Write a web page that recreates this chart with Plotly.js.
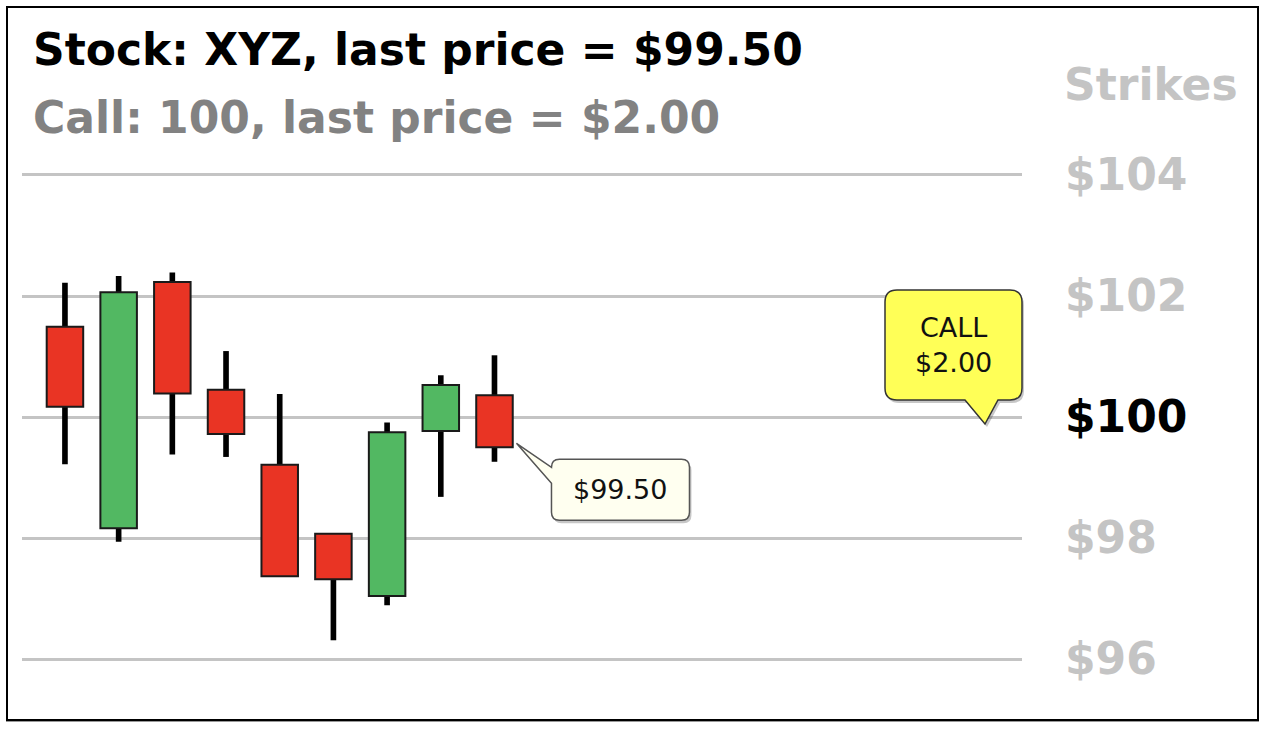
<!DOCTYPE html>
<html>
<head>
<meta charset="utf-8">
<script src="https://cdn.plot.ly/plotly-3.0.1.min.js"></script>
<style>
  html, body { margin: 0; padding: 0; background: #fff; }
  #chart { width: 1270px; height: 730px; }
  #frame { position: absolute; left: 6px; top: 6px; width: 1253px; height: 715px;
           border: 2px solid #000; box-sizing: border-box; pointer-events: none;
           box-shadow: 0 1px 0 #999; }
</style>
</head>
<body>
<div id="chart"></div>
<div id="frame"></div>
<script>
// ---- data ----
var stock = 'XYZ';
var periods = [1, 2, 3, 4, 5, 6, 7, 8, 9];
var open  = [101.49,  98.16, 102.23, 100.45, 99.21, 98.07, 97.04,  99.77, 100.36];
var high  = [102.22, 102.33, 102.39, 101.09, 100.38, 98.07, 99.91, 100.69, 101.02];
var low   = [ 99.22,  97.94,  99.38,  99.34, 97.37, 96.31, 96.89,  98.68,  99.26];
var close = [100.17, 102.06, 100.39,  99.72, 97.37, 97.32, 99.75, 100.53,  99.50];
var strikes = [96, 98, 100, 102, 104];
var strikeLabels = ['$96', '$98', '$100', '$102', '$104'];
var callStrike = 100;
var callPrice = 2.00;

// ---- derived ----
var last = close.length - 1;
var lastPrice = close[last];
var upColor = '#52b862', downColor = '#e93424';
var bodyBase = open.map(function (o, i) { return Math.min(o, close[i]); });
var bodyLen = open.map(function (o, i) { return Math.abs(close[i] - o); });
var bodyColor = open.map(function (o, i) { return close[i] >= o ? upColor : downColor; });
var wickLen = high.map(function (h, i) { return h - low[i]; });
var tickText = strikes.map(function (s, i) {
  return s === callStrike ? '<span style="color:#000000">' + strikeLabels[i] + '</span>' : strikeLabels[i];
});

// bubble path (pixel offsets, y up)
function roundBox(L, R, T, B, r, dx, dy, tailSide, tail) {
  function p(x, y) { return (x + dx) + ',' + (y + dy); }
  var d = 'M' + p(L + r, T) + ' L' + p(R - r, T) + ' Q' + p(R, T) + ' ' + p(R, T - r) +
          ' L' + p(R, B + r) + ' Q' + p(R, B) + ' ' + p(R - r, B);
  if (tailSide === 'bottom') {
    d += ' L' + p(tail[0], B) + ' L' + p(tail[1], tail[2]) + ' L' + p(tail[3], B);
  }
  d += ' L' + p(L + r, B) + ' Q' + p(L, B) + ' ' + p(L, B + r);
  if (tailSide === 'left') {
    d += ' L' + p(L, tail[0]) + ' L' + p(tail[1], tail[2]) + ' L' + p(L, tail[3]);
  }
  d += ' L' + p(L, T - r) + ' Q' + p(L, T) + ' ' + p(L + r, T) + ' Z';
  return d;
}

var priceBox = { L: 57, R: 195, T: -12, B: -73, r: 8, tail: [-36, 22, 4, -20] };
var callBox = { L: -137, R: 0, T: 127, B: 17, r: 12, tail: [-24, -37, -7, -57] };

function bubbleShapes(box, side, xref, xanchor, yanchor, fill, line) {
  var common = { type: 'path', xref: xref, yref: 'y', xsizemode: 'pixel', ysizemode: 'pixel',
                 xanchor: xanchor, yanchor: yanchor, layer: 'above' };
  var shadow = Object.assign({}, common, {
    path: roundBox(box.L, box.R, box.T, box.B, box.r, 2, -3, side, box.tail),
    fillcolor: 'rgba(0,0,0,0.22)', line: { width: 0 }
  });
  var main = Object.assign({}, common, {
    path: roundBox(box.L, box.R, box.T, box.B, box.r, 0, 0, side, box.tail),
    fillcolor: fill, line: { color: line, width: 1.5 }
  });
  return [shadow, main];
}

var shapes = []
  .concat(bubbleShapes(priceBox, 'left', 'x', periods[last], lastPrice, '#fffff0', '#555555'))
  .concat(bubbleShapes(callBox, 'bottom', 'paper', 1, callStrike, '#ffff57', '#333333'));

var traces = [
  { type: 'bar', x: periods, base: low, y: wickLen, width: 0.105,
    marker: { color: '#000000', line: { width: 0 } }, hoverinfo: 'skip' },
  { type: 'bar', x: periods, base: bodyBase, y: bodyLen, width: 0.68,
    marker: { color: bodyColor, line: { color: '#1a1a1a', width: 2 } }, hoverinfo: 'skip' }
];

var textFont = { family: 'DejaVu Sans', size: 27, color: '#111111' };
var boldFont = function (color) { return { family: 'DejaVu Sans', size: 44, weight: 'bold', color: color }; };

var layout = {
  width: 1270, height: 730,
  margin: { l: 22, r: 248, t: 150, b: 40 },
  paper_bgcolor: '#ffffff', plot_bgcolor: '#ffffff',
  showlegend: false, barmode: 'overlay',
  title: {
    text: 'Stock: ' + stock + ', last price = $' + lastPrice.toFixed(2),
    xref: 'container', yref: 'container', x: 33 / 1270, xanchor: 'left',
    y: 1 - 50 / 730, yanchor: 'middle',
    font: boldFont('#000000')
  },
  xaxis: { range: [0.2, 18.825], showgrid: false, zeroline: false, showticklabels: false,
           showline: false, ticks: '', fixedrange: true },
  yaxis: { range: [95.488, 104.413], side: 'right', tickmode: 'array', tickvals: strikes,
           ticktext: tickText, showgrid: true, gridcolor: '#c4c4c4', gridwidth: 3,
           zeroline: false, showline: false, ticks: '', ticklabelstandoff: 42,
           tickfont: boldFont('#c4c4c4'), fixedrange: true },
  shapes: shapes,
  annotations: [
    { text: 'Call: ' + callStrike + ', last price = $' + callPrice.toFixed(2),
      xref: 'paper', yref: 'paper', x: 9 / 1000, y: (690 - 117) / 540,
      xanchor: 'left', yanchor: 'middle', showarrow: false, font: boldFont('#828282') },
    { text: 'Strikes', xref: 'paper', yref: 'paper', x: 1040 / 1000, y: (690 - 85) / 540,
      xanchor: 'left', yanchor: 'middle', showarrow: false, font: boldFont('#c4c4c4') },
    { text: '$' + lastPrice.toFixed(2), xref: 'x', yref: 'y', x: periods[last], y: lastPrice,
      xshift: (priceBox.L + priceBox.R) / 2, yshift: (priceBox.T + priceBox.B) / 2,
      showarrow: false, font: textFont },
    { text: 'CALL<br>$' + callPrice.toFixed(2), xref: 'paper', yref: 'y', x: 1, y: callStrike,
      xanchor: 'center', xshift: (callBox.L + callBox.R) / 2, yshift: (callBox.T + callBox.B) / 2,
      showarrow: false, font: textFont }
  ]
};

Plotly.newPlot('chart', traces, layout, { displayModeBar: false, staticPlot: true });
</script>
</body>
</html>
